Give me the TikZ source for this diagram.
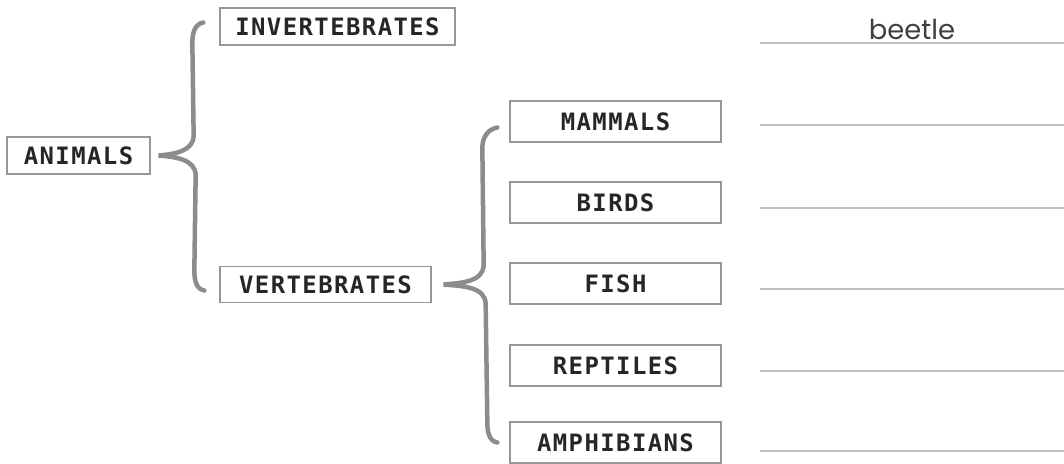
\documentclass[tikz,border=0pt]{standalone}
\usepackage{fontspec}
\usetikzlibrary{calc}
\newfontfamily\labelfont[LetterSpace=6]{DejaVu Sans Mono Bold}
\newfontfamily\answerfont{Poppins}
\definecolor{boxline}{RGB}{150,150,150}
\definecolor{bracegray}{RGB}{140,140,142}
\definecolor{rulegray}{RGB}{190,190,192}
\tikzset{
  catbox/.style={draw=boxline, line width=0.9pt, align=center, inner sep=0pt, minimum width=5.275cm, minimum height=1.025cm, text=black!85, font=\labelfont\fontsize{17}{18}\selectfont},
  brace/.style={draw=bracegray, line width=3.2pt, line cap=round},
  answerline/.style={draw=rulegray, line width=1.6pt},
  answer/.style={anchor=base, text=black!75, font=\answerfont\fontsize{19.5}{20}\selectfont}
}
\begin{document}
\begin{tikzpicture}[x=0.025cm, y=-0.025cm]
\useasboundingbox (0,0) rectangle (1064,463);
\node[catbox, minimum width=3.575cm, minimum height=0.925cm] (animals) at (78.5,155.5) {ANIMALS};
\node[catbox, minimum width=5.875cm, minimum height=0.925cm] (invert) at (337.5,26.5) {INVERTEBRATES};
\node[catbox, minimum height=0.9cm] (vert) at (325.5,284.5) {VERTEBRATES};
\node[catbox] (mammals) at (615.5,121.5) {MAMMALS};
\node[catbox] (birds) at (615.5,202.5) {BIRDS};
\node[catbox] (fish) at (615.5,283.5) {FISH};
\node[catbox] (reptiles) at (615.5,365.5) {REPTILES};
\node[catbox] (amphib) at (615.5,442.5) {AMPHIBIANS};
% brace ends
\coordinate (tip1) at ($(animals.east)+(8,0)$);
\coordinate (top1) at ($(invert.west)+(-16,-4)$);
\coordinate (bot1) at ($(vert.west)+(-15,6)$);
\coordinate (tip2) at ($(vert.east)+(12,0)$);
\coordinate (top2) at ($(mammals.west)+(-12,6)$);
\coordinate (bot2) at ($(amphib.west)+(-12,0)$);
\draw[brace] (top1) to[out=190,in=90] ($(top1)+(-11,20)$) -- ($(tip1)+(35,-20)$)
  to[out=-90,in=5] (tip1) to[out=-5,in=90] ($(tip1)+(37,20)$)
  -- ($(bot1)+(-10,-20)$) to[out=-90,in=170] (bot1);
\draw[brace] (top2) to[out=190,in=90] ($(top2)+(-15,20)$) -- ($(tip2)+(40,-20)$)
  to[out=-90,in=5] (tip2) to[out=-5,in=90] ($(tip2)+(42,20)$)
  -- ($(bot2)+(-10,-20)$) to[out=-90,in=170] (bot2);
% answer lines
\foreach \y in {43,125,208,289,371,451}
  \draw[answerline] (760,\y) -- (1064,\y);
\node[answer] (beetle) at (912,39) {beetle};
\end{tikzpicture}
\end{document}
